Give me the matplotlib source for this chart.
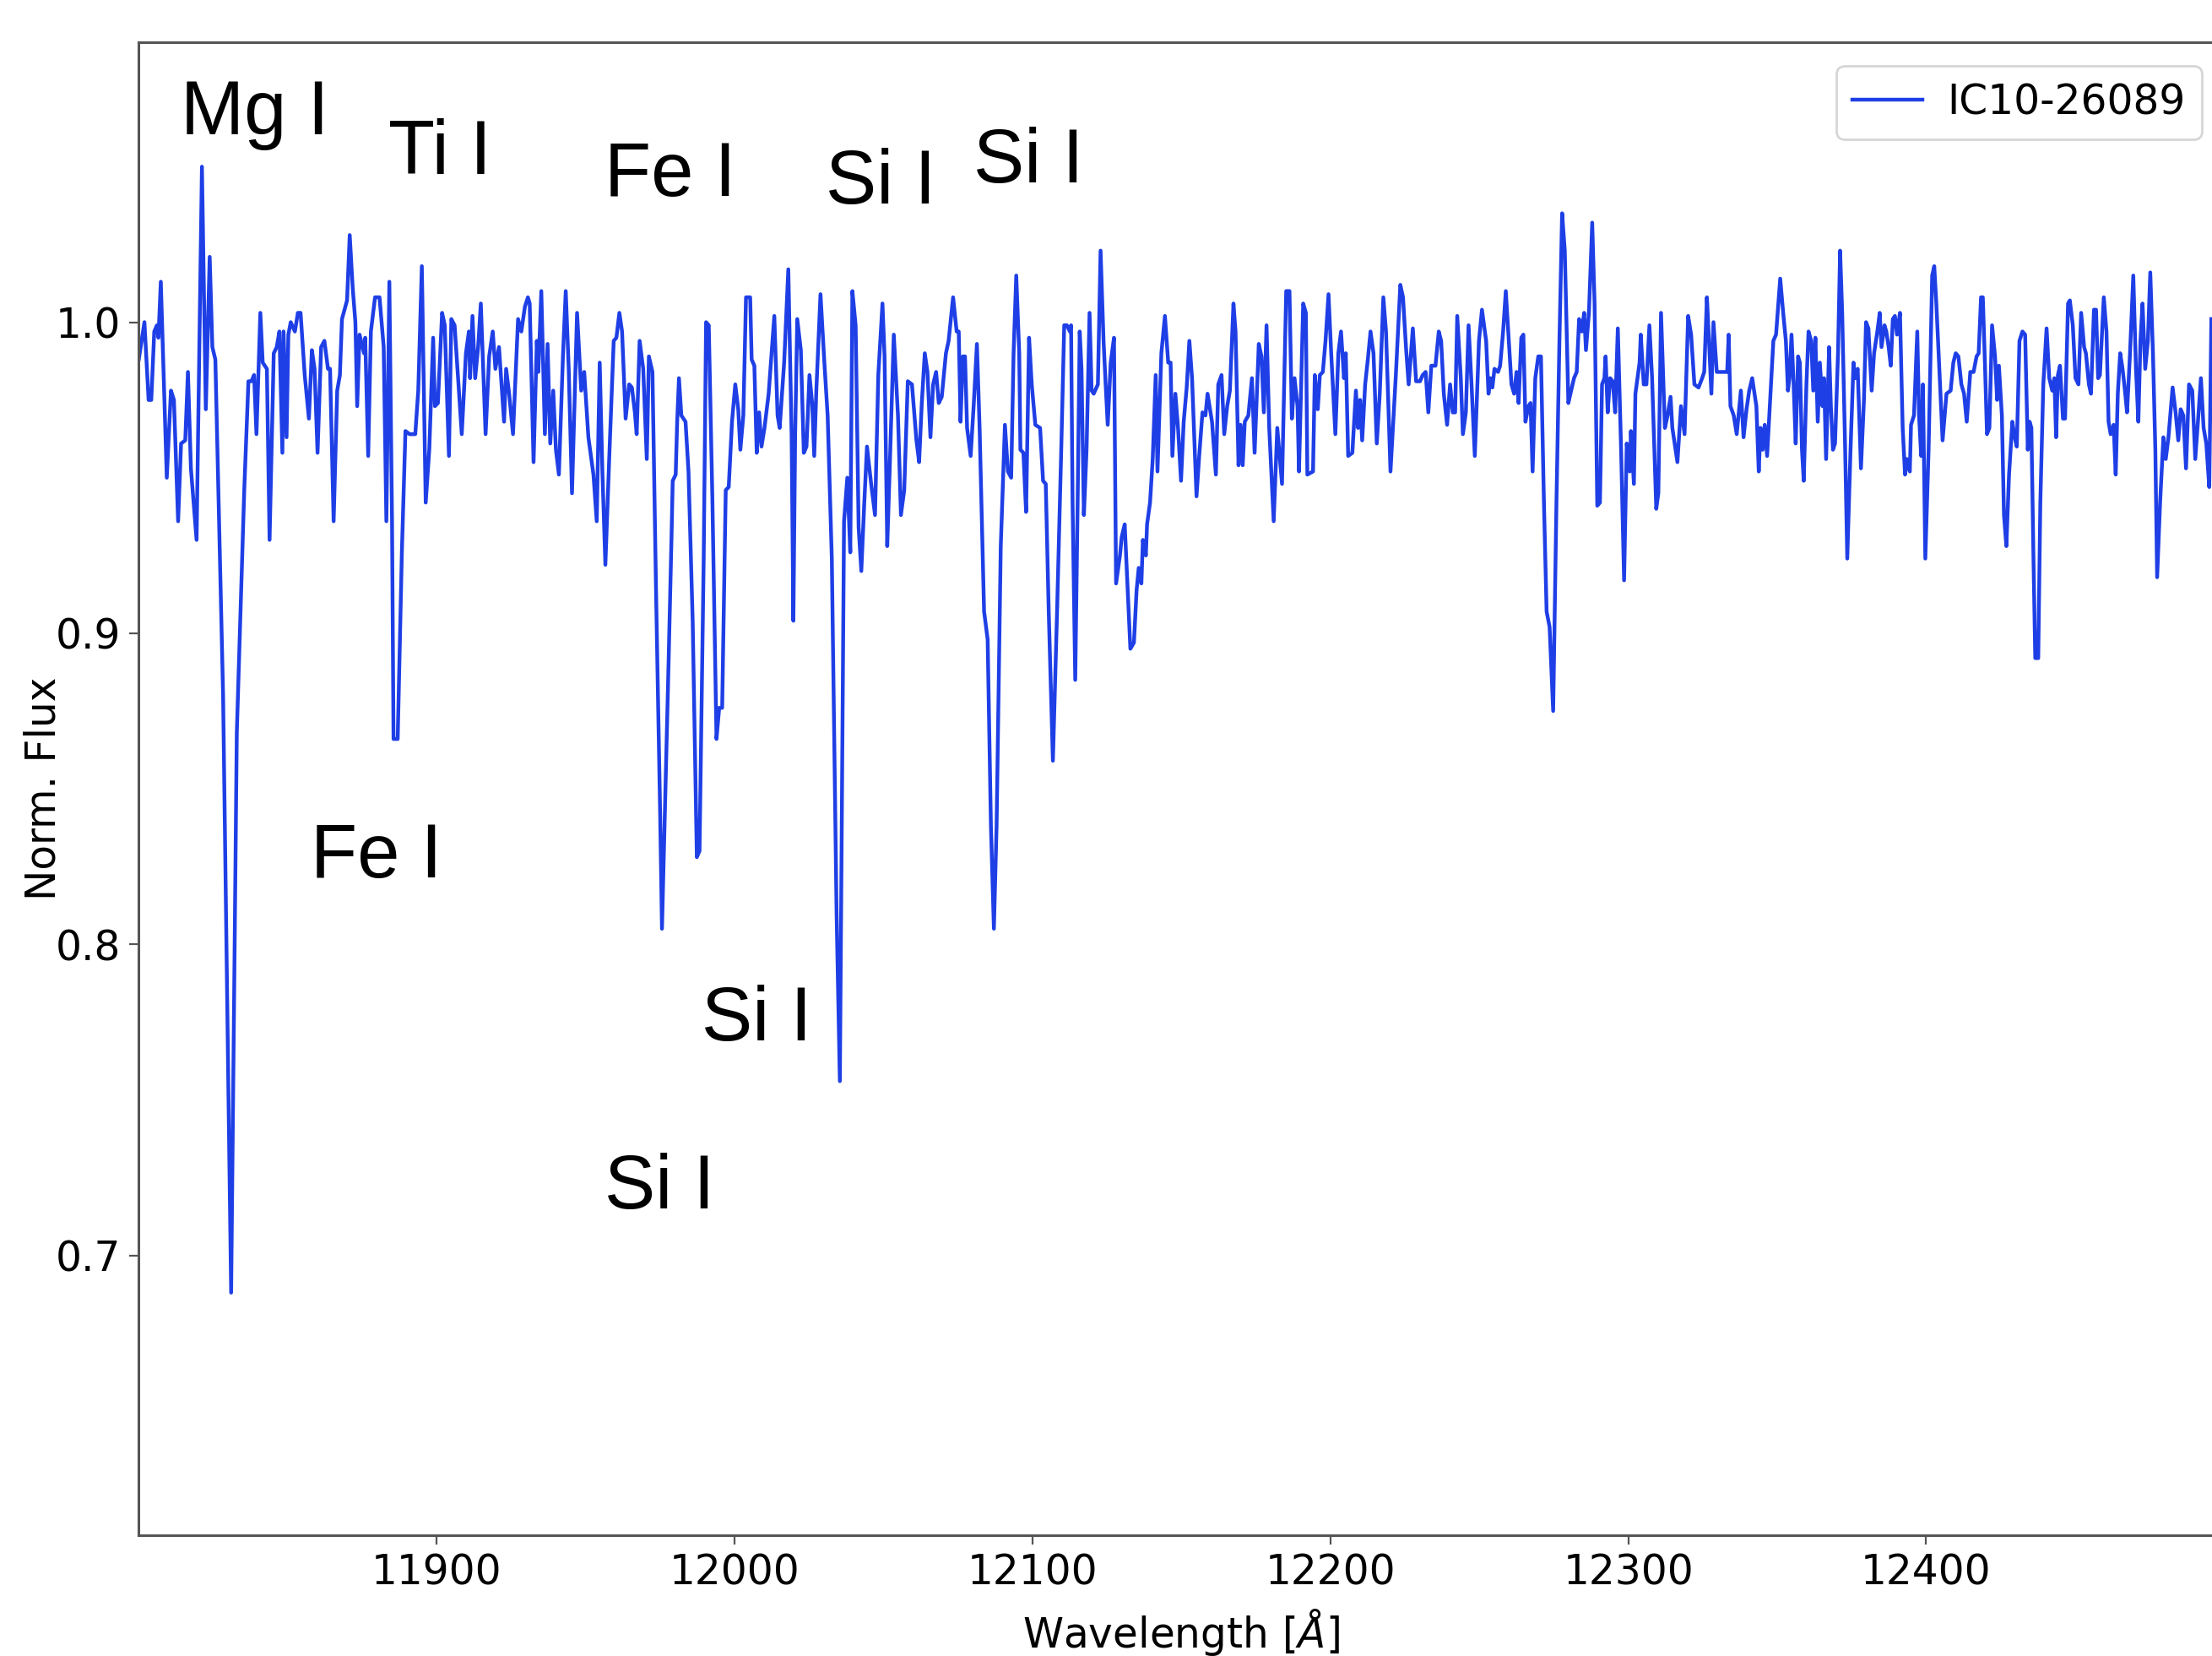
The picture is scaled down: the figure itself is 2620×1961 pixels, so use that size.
import matplotlib
matplotlib.use("Agg")
import matplotlib.pyplot as plt

# =============================================================================
# spectrum of IC10-26089 (wavelength in Angstrom)
# =============================================================================
wavelength = [
    # 11800 - 11890
    11800.1, 11802.0, 11803.4, 11804.3, 11805.3, 11806.2, 11806.7, 11807.5, 11809.5, 11810.9,
    11811.9, 11813.3, 11814.3, 11815.7, 11816.6, 11817.6, 11819.5, 11821.3, 11822.6, 11823.9,
    11824.8, 11825.8, 11828.4, 11831.1, 11833.0, 11835.5, 11836.9, 11837.9, 11838.8, 11839.6,
    11840.9, 11841.7, 11843.1, 11844.0, 11845.4, 11846.4, 11847.3, 11848.3, 11848.7, 11849.7,
    11850.3, 11851.1, 11852.5, 11853.5, 11854.4, 11855.8, 11857.2, 11858.2, 11859.1, 11860.1,
    11861.3, 11862.4, 11863.6, 11864.3, 11865.5, 11866.7, 11867.6, 11868.3, 11870.0, 11870.9,
    11871.9, 11872.8, 11873.4, 11874.2, 11875.7, 11876.1, 11877.1, 11878.0, 11879.4, 11880.9,
    11882.3, 11883.2, 11884.2, 11885.1, 11885.6, 11887.0, 11888.4, 11889.6,
    # 11890 - 11980
    11891.0, 11892.9, 11893.9, 11895.1, 11896.4, 11897.6, 11898.9, 11899.5, 11900.5, 11901.9,
    11902.8, 11904.2, 11905.0, 11906.1, 11908.5, 11909.9, 11910.9, 11911.3, 11912.1, 11913.0,
    11914.0, 11914.9, 11916.5, 11917.7, 11918.9, 11919.8, 11921.0, 11922.7, 11923.4, 11924.4,
    11925.7, 11927.4, 11928.5, 11929.7, 11930.7, 11931.3, 11932.6, 11933.7, 11934.2, 11935.2,
    11936.4, 11937.3, 11938.2, 11939.2, 11940.1, 11941.1, 11942.5, 11943.4, 11944.4, 11945.5,
    11947.2, 11948.6, 11949.6, 11951.0, 11952.7, 11953.8, 11954.8, 11955.7, 11956.7, 11958.1,
    11959.5, 11960.4, 11961.4, 11962.3, 11963.5, 11964.7, 11965.6, 11966.6, 11967.2, 11968.2,
    11969.4, 11970.6, 11971.3, 11972.5, 11973.7, 11975.1, 11975.7, 11977.9, 11978.9, 11979.3,
    11980.3,
    # 11980 - 12070
    11980.8, 11981.4, 11982.2, 11983.6, 11984.6, 11986.0, 11987.4, 11988.3, 11989.7, 11990.5,
    11991.4, 11992.6, 11994.0, 11994.9, 11995.9, 11997.1, 11998.1, 11999.2, 12000.3, 12001.3,
    12002.0, 12003.0, 12003.9, 12005.3, 12005.8, 12006.7, 12007.5, 12008.3, 12009.1, 12010.1,
    12011.5, 12013.4, 12014.5, 12015.2, 12016.7, 12018.1, 12019.2, 12019.8, 12020.4, 12021.1,
    12022.3, 12023.3, 12024.2, 12025.2, 12026.1, 12026.8, 12027.5, 12028.9, 12030.2, 12031.3,
    12032.7, 12034.3, 12035.4, 12036.8, 12037.9, 12038.9, 12039.6, 12040.7, 12041.7, 12042.6,
    12043.6, 12044.5, 12045.9, 12047.2, 12048.3, 12049.7, 12050.4, 12051.3, 12052.1, 12053.5,
    12054.9, 12055.9, 12057.0, 12058.2, 12059.6, 12061.1, 12062.0, 12062.9, 12063.9, 12064.8,
    12065.8, 12066.7, 12067.7, 12068.6, 12069.6,
    # 12070 - 12160
    12071.0, 12071.9, 12073.4, 12074.6, 12075.3, 12075.9, 12076.7, 12077.4, 12078.1, 12079.3,
    12080.3, 12081.4, 12082.3, 12083.8, 12085.0, 12086.1, 12087.1, 12088.0, 12089.4, 12090.8,
    12091.8, 12092.9, 12093.7, 12094.6, 12095.6, 12096.0, 12097.0, 12097.9, 12098.9, 12099.8,
    12101.0, 12102.6, 12103.6, 12104.5, 12105.5, 12106.9, 12108.3, 12109.7, 12110.7, 12111.6,
    12112.6, 12113.0, 12113.5, 12114.4, 12115.2, 12115.9, 12116.5, 12117.3, 12118.2, 12119.2,
    12119.9, 12120.6, 12122.0, 12122.9, 12123.9, 12124.6, 12125.3, 12126.3, 12127.4, 12128.1,
    12129.4, 12130.0, 12131.0, 12131.9, 12132.9, 12134.1, 12135.0, 12135.7, 12136.6, 12137.1,
    12138.1, 12138.5, 12139.5, 12140.4, 12141.4, 12142.0, 12143.3, 12144.5, 12145.6, 12146.4,
    12147.0, 12148.0, 12148.9, 12149.9, 12150.8, 12151.8, 12152.7, 12153.6, 12155.1, 12156.0,
    12157.1, 12158.1, 12158.8, 12160.3,
    # 12160 - 12250
    12161.6, 12162.4, 12163.5, 12164.4, 12165.4, 12166.3, 12167.5, 12168.2, 12169.2, 12169.9,
    12170.6, 12171.3, 12172.5, 12173.7, 12174.6, 12176.0, 12176.9, 12177.7, 12178.6, 12179.5,
    12181.0, 12182.2, 12183.8, 12185.2, 12186.3, 12187.1, 12188.0, 12189.0, 12189.5, 12190.9,
    12191.8, 12192.3, 12194.2, 12194.8, 12195.8, 12196.5, 12197.5, 12198.4, 12199.4, 12200.3,
    12201.7, 12202.7, 12203.6, 12204.6, 12205.2, 12206.0, 12207.4, 12208.6, 12209.3, 12210.0,
    12210.7, 12211.7, 12212.6, 12213.5, 12214.5, 12215.6, 12216.6, 12217.8, 12218.7, 12220.2,
    12222.0, 12223.5, 12224.4, 12225.4, 12226.3, 12227.7, 12228.8, 12230.1, 12231.0, 12232.0,
    12232.9, 12233.9, 12235.3, 12236.4, 12237.2, 12238.1, 12239.2, 12240.2, 12241.1, 12241.9,
    12242.6, 12243.8, 12244.5, 12245.5, 12246.4, 12247.4, 12248.5, 12249.9, 12250.9,
    # 12250 - 12340
    12252.3, 12253.1, 12253.7, 12254.4, 12255.1, 12256.3, 12257.0, 12258.0, 12258.9, 12259.9,
    12260.8, 12261.7, 12262.5, 12263.2, 12264.1, 12264.8, 12265.5, 12266.5, 12267.2, 12267.9,
    12268.8, 12269.8, 12270.7, 12271.7, 12272.6, 12273.6, 12274.8, 12275.9, 12276.9, 12277.8,
    12278.7, 12279.9, 12280.6, 12281.8, 12282.7, 12283.5, 12284.4, 12285.2, 12285.8, 12286.8,
    12287.9, 12288.7, 12289.6, 12290.5, 12291.2, 12292.0, 12292.4, 12293.1, 12293.9, 12294.8,
    12295.6, 12296.5, 12297.6, 12298.6, 12299.5, 12300.5, 12300.9, 12301.9, 12302.4, 12303.8,
    12304.2, 12305.2, 12306.1, 12307.1, 12308.0, 12309.4, 12310.1, 12311.0, 12312.3, 12313.2,
    12314.2, 12314.8, 12316.5, 12317.7, 12318.9, 12320.1, 12321.1, 12322.2, 12323.6, 12324.8,
    12325.5, 12326.4, 12327.1, 12327.9, 12328.6, 12329.7, 12331.6, 12333.2, 12333.7, 12334.3,
    12335.4, 12336.4, 12337.3, 12337.8, 12338.7, 12339.7, 12340.6, 12341.6,
    # 12340 - 12435
    12343.0, 12343.8, 12344.4, 12345.1, 12345.8, 12346.6, 12347.5, 12348.7, 12349.6, 12351.0,
    12352.0, 12352.9, 12353.6, 12354.1, 12354.8, 12355.5, 12356.2, 12357.0, 12357.6, 12358.3,
    12358.9, 12359.8, 12360.5, 12361.4, 12362.1, 12362.8, 12363.6, 12364.3, 12365.2, 12365.7,
    12366.4, 12367.4, 12368.0, 12368.7, 12369.4, 12370.4, 12371.1, 12371.8, 12372.8, 12373.5,
    12374.6, 12375.6, 12376.1, 12377.0, 12378.1, 12379.1, 12379.8, 12380.6, 12381.7, 12382.5,
    12383.6, 12384.4, 12385.0, 12386.0, 12386.6, 12387.4, 12388.1, 12388.8, 12389.5, 12390.2,
    12391.2, 12392.1, 12392.9, 12393.5, 12394.5, 12394.9, 12395.9, 12397.0, 12397.6, 12398.3,
    12398.9, 12399.7, 12400.8, 12402.0, 12402.7, 12403.4, 12404.4, 12405.5, 12406.8, 12408.2,
    12409.1, 12409.9, 12410.8, 12411.8, 12412.7, 12413.6, 12414.8, 12415.9, 12416.9, 12417.6,
    12418.4, 12419.0, 12419.7, 12420.4, 12421.2, 12422.1, 12423.1, 12423.8, 12424.4, 12425.4,
    12426.1, 12426.9, 12427.8, 12428.9, 12429.7, 12430.4, 12431.3, 12432.3, 12433.2,
    # 12435 - 12496
    12434.1, 12434.7, 12435.3, 12436.0, 12436.6, 12437.6, 12438.3, 12439.3, 12440.4, 12441.3,
    12442.3, 12443.0, 12443.6, 12444.2, 12444.9, 12445.9, 12446.6, 12447.6, 12448.2, 12449.2,
    12450.1, 12451.1, 12452.0, 12453.0, 12453.6, 12454.6, 12455.3, 12456.3, 12457.0, 12457.7,
    12458.3, 12459.6, 12460.5, 12461.2, 12461.9, 12462.9, 12463.6, 12464.3, 12465.1, 12465.9,
    12466.7, 12467.4, 12468.4, 12469.5, 12470.4, 12471.2, 12471.9, 12472.6, 12473.5, 12474.4,
    12475.2, 12476.1, 12476.9, 12477.5, 12478.5, 12479.6, 12480.4, 12481.3, 12482.7, 12483.7,
    12484.6, 12485.4, 12486.3, 12487.2, 12488.2, 12489.3, 12490.3, 12491.2, 12492.2, 12493.1,
    12494.0, 12495.0, 12495.7,
]

norm_flux = [
    # 11800 - 11890
    0.988, 1.000, 0.975, 0.975, 0.997, 0.999, 0.995, 1.013, 0.950, 0.978,
    0.975, 0.936, 0.961, 0.962, 0.984, 0.953, 0.930, 1.050, 0.972, 1.021,
    0.992, 0.988, 0.880, 0.688, 0.868, 0.946, 0.981, 0.981, 0.983, 0.964,
    1.003, 0.987, 0.985, 0.930, 0.990, 0.992, 0.997, 0.958, 0.997, 0.963,
    0.996, 1.000, 0.997, 1.003, 1.003, 0.983, 0.969, 0.991, 0.985, 0.958,
    0.992, 0.994, 0.985, 0.985, 0.936, 0.978, 0.983, 1.001, 1.007, 1.028,
    1.011, 1.000, 0.973, 0.996, 0.990, 0.995, 0.957, 0.997, 1.008, 1.008,
    0.992, 0.936, 1.013, 0.936, 0.866, 0.866, 0.926, 0.965,
    # 11890 - 11980
    0.964, 0.964, 0.978, 1.018, 0.942, 0.959, 0.995, 0.973, 0.974, 1.003,
    0.999, 0.957, 1.001, 0.999, 0.964, 0.990, 0.997, 0.982, 1.002, 0.982,
    0.992, 1.006, 0.964, 0.989, 0.997, 0.985, 0.992, 0.968, 0.985, 0.977,
    0.964, 1.001, 0.997, 1.005, 1.008, 1.006, 0.955, 0.994, 0.984, 1.010,
    0.964, 0.993, 0.961, 0.978, 0.959, 0.951, 0.990, 1.010, 0.985, 0.945,
    1.003, 0.978, 0.984, 0.963, 0.951, 0.936, 0.987, 0.952, 0.922, 0.959,
    0.994, 0.995, 1.003, 0.997, 0.969, 0.980, 0.979, 0.971, 0.964, 0.994,
    0.985, 0.956, 0.989, 0.984, 0.914, 0.841, 0.805, 0.890, 0.931, 0.949,
    0.951,
    # 11980 - 12070
    0.968, 0.982, 0.970, 0.968, 0.952, 0.904, 0.828, 0.830, 0.924, 1.000,
    0.999, 0.944, 0.866, 0.876, 0.876, 0.946, 0.947, 0.968, 0.980, 0.972,
    0.959, 0.970, 1.008, 1.008, 0.988, 0.986, 0.958, 0.971, 0.960, 0.966,
    0.977, 1.002, 0.970, 0.966, 0.987, 1.017, 0.964, 0.904, 0.964, 1.001,
    0.991, 0.958, 0.960, 0.983, 0.974, 0.957, 0.978, 1.009, 0.987, 0.970,
    0.924, 0.810, 0.756, 0.936, 0.950, 0.926, 1.010, 0.999, 0.934, 0.920,
    0.942, 0.960, 0.948, 0.938, 0.983, 1.006, 0.989, 0.928, 0.952, 0.996,
    0.970, 0.938, 0.946, 0.981, 0.980, 0.962, 0.955, 0.974, 0.990, 0.984,
    0.963, 0.980, 0.984, 0.974, 0.976,
    # 12070 - 12160
    0.990, 0.994, 1.008, 0.997, 0.997, 0.968, 0.989, 0.989, 0.966, 0.957,
    0.973, 0.993, 0.966, 0.907, 0.898, 0.838, 0.805, 0.838, 0.928, 0.967,
    0.952, 0.950, 0.990, 1.015, 0.990, 0.959, 0.958, 0.939, 0.995, 0.980,
    0.967, 0.966, 0.949, 0.948, 0.907, 0.859, 0.907, 0.959, 0.999, 0.999,
    0.997, 0.999, 0.942, 0.885, 0.942, 0.997, 0.985, 0.938, 0.959, 1.003,
    0.978, 0.977, 0.980, 1.023, 0.994, 0.980, 0.967, 0.987, 0.995, 0.916,
    0.925, 0.931, 0.935, 0.916, 0.895, 0.897, 0.914, 0.921, 0.916, 0.930,
    0.925, 0.935, 0.942, 0.956, 0.983, 0.952, 0.990, 1.002, 0.987, 0.987,
    0.957, 0.977, 0.966, 0.949, 0.968, 0.979, 0.994, 0.982, 0.944, 0.957,
    0.971, 0.970, 0.977, 0.968,
    # 12160 - 12250
    0.951, 0.980, 0.983, 0.964, 0.973, 0.978, 1.006, 0.997, 0.954, 0.967,
    0.954, 0.968, 0.970, 0.982, 0.958, 0.993, 0.989, 0.971, 0.999, 0.966,
    0.936, 0.966, 0.948, 1.010, 1.010, 0.969, 0.982, 0.973, 0.952, 1.006,
    1.003, 0.951, 0.952, 0.983, 0.972, 0.983, 0.984, 0.994, 1.009, 0.990,
    0.964, 0.990, 0.997, 0.982, 0.990, 0.957, 0.958, 0.978, 0.966, 0.975,
    0.962, 0.980, 0.988, 0.997, 0.990, 0.961, 0.977, 1.008, 0.997, 0.952,
    0.983, 1.012, 1.008, 0.992, 0.980, 0.998, 0.981, 0.981, 0.983, 0.984,
    0.971, 0.986, 0.986, 0.997, 0.994, 0.977, 0.967, 0.980, 0.971, 0.971,
    1.002, 0.982, 0.964, 0.971, 0.999, 0.980, 0.957, 0.994, 1.004,
    # 12250 - 12340
    0.994, 0.977, 0.982, 0.979, 0.985, 0.984, 0.986, 0.997, 1.010, 0.994,
    0.980, 0.977, 0.984, 0.974, 0.995, 0.996, 0.968, 0.973, 0.974, 0.952,
    0.982, 0.989, 0.989, 0.942, 0.907, 0.902, 0.875, 0.942, 0.994, 1.035,
    1.023, 0.974, 0.977, 0.982, 0.984, 1.001, 0.997, 1.003, 0.991, 1.003,
    1.032, 1.006, 0.941, 0.942, 0.980, 0.982, 0.989, 0.971, 0.982, 0.981,
    0.971, 0.998, 0.959, 0.917, 0.961, 0.952, 0.965, 0.948, 0.977, 0.987,
    0.996, 0.980, 0.980, 0.999, 0.982, 0.940, 0.945, 1.003, 0.966, 0.970,
    0.976, 0.966, 0.955, 0.973, 0.964, 1.002, 0.996, 0.980, 0.979, 0.982,
    0.984, 1.008, 0.994, 0.977, 1.000, 0.984, 0.984, 0.984, 0.996, 0.973,
    0.970, 0.964, 0.973, 0.978, 0.963, 0.972, 0.978, 0.982,
    # 12340 - 12435
    0.973, 0.952, 0.966, 0.959, 0.967, 0.957, 0.973, 0.994, 0.996, 1.014,
    1.003, 0.994, 0.978, 0.982, 0.996, 0.980, 0.961, 0.989, 0.987, 0.959,
    0.949, 0.980, 0.997, 0.994, 0.978, 0.995, 0.968, 0.987, 0.973, 0.982,
    0.956, 0.992, 0.973, 0.959, 0.961, 0.990, 1.023, 1.003, 0.959, 0.924,
    0.959, 0.987, 0.982, 0.985, 0.953, 0.975, 1.000, 0.998, 0.978, 0.990,
    0.997, 1.003, 0.992, 0.999, 0.997, 0.992, 0.986, 1.001, 1.002, 0.996,
    1.003, 0.966, 0.951, 0.956, 0.952, 0.967, 0.970, 0.997, 0.970, 0.957,
    0.980, 0.924, 0.959, 1.015, 1.018, 1.006, 0.985, 0.962, 0.977, 0.978,
    0.987, 0.990, 0.989, 0.980, 0.977, 0.968, 0.984, 0.984, 0.989, 0.990,
    1.008, 1.008, 0.987, 0.964, 0.966, 0.999, 0.989, 0.975, 0.986, 0.970,
    0.938, 0.928, 0.951, 0.968, 0.963, 0.960, 0.994, 0.997, 0.996,
    # 12435 - 12496
    0.959, 0.968, 0.966, 0.924, 0.892, 0.892, 0.942, 0.980, 0.998, 0.982,
    0.978, 0.982, 0.963, 0.983, 0.986, 0.969, 0.969, 1.006, 1.007, 0.999,
    0.982, 0.980, 1.003, 0.992, 0.990, 0.980, 0.977, 1.004, 1.004, 0.982,
    0.983, 1.008, 0.997, 0.968, 0.964, 0.967, 0.951, 0.977, 0.990, 0.985,
    0.978, 0.971, 0.990, 1.015, 0.985, 0.968, 0.994, 1.006, 0.985, 0.994,
    1.016, 0.990, 0.959, 0.918, 0.942, 0.963, 0.956, 0.963, 0.979, 0.971,
    0.962, 0.972, 0.970, 0.953, 0.980, 0.978, 0.956, 0.968, 0.982, 0.966,
    0.961, 0.947, 1.001,
]

assert len(wavelength) == len(norm_flux)

star_name = "IC10-26089"
x_ticks = [11900, 12000, 12100, 12200, 12300, 12400]
y_ticks = [0.7, 0.8, 0.9, 1.0]

# line identifications: species, wavelength, flux where the label sits
line_ids = ["Mg I", "Ti I", "Fe I", "Si I", "Si I", "Fe I", "Si I", "Si I"]
id_wave = [11814.2, 11883.8, 11956.3, 12030.6, 12080.3, 11857.8, 11988.9, 11956.3]
id_flux = [1.0605, 1.0477, 1.0405, 1.0382, 1.0450, 0.8214, 0.7690, 0.7150]


# =============================================================================
# plot
# =============================================================================
plt.rcParams['font.family'] = ['DejaVu Sans']

fig = plt.figure(figsize=(13.1, 9.805), dpi=200)
ax = fig.add_axes([0.0626, 0.0729, 0.9429, 0.9016])

ax.plot(wavelength, norm_flux, color='#1f3fe6', lw=1.6, label=star_name)

for name, lx, ly in zip(line_ids, id_wave, id_flux):
    ax.text(lx, ly, name, fontsize=32.5, family='Liberation Sans',
            ha='left', va='baseline', color='black')

ax.set_xlim(11800, 12500)
ax.set_ylim(0.61, 1.09)
ax.set_xticks(x_ticks)
ax.set_yticks(y_ticks)
ax.tick_params(labelsize=17.5, length=4, width=0.8, color='#555555')

for sp in ax.spines.values():
    sp.set_color('#555555')
    sp.set_linewidth(1.1)

ax.set_xlabel(r'Wavelength [$\AA$]', fontsize=17.5)
ax.set_ylabel('Norm. Flux', fontsize=17.5)
ax.xaxis.set_label_coords(0.5, -0.048)
ax.yaxis.set_label_coords(-0.036, 0.5)

ax.legend(loc='upper right', bbox_to_anchor=(0.9954, 0.9602),
          bbox_transform=fig.transFigure, borderaxespad=0, fontsize=17.5,
          handlelength=1.7, handletextpad=0.6)

fig.savefig("out.png", dpi=200)
